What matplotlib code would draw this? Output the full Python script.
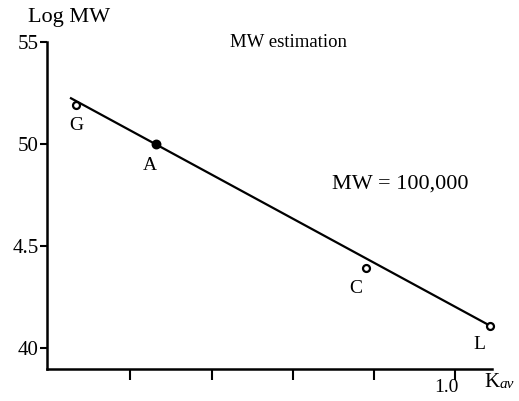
import numpy as np
import matplotlib
matplotlib.use("Agg")
from matplotlib import pyplot as plt
from matplotlib.transforms import ScaledTranslation

plt.rcParams['font.family'] = ['Liberation Serif', 'DejaVu Serif']

# data
names = ['G', 'A', 'C', 'L']
kav = [0.066, 0.263, 0.78, 1.085]
logmw = [5.19, 5.0, 4.39, 4.11]
filled = [False, True, False, False]
kav_fit = [0.054, 1.085]
logmw_fit = [5.225, 4.11]
yticks = [4.0, 4.5, 5.0, 5.5]
ytick_labels = ['40', '4.5', '50', '55']
xticks = [0.2, 0.4, 0.6, 0.8, 1.0]
xtick_labels = ['', '', '', '', '1.0']

fig = plt.figure(figsize=(5.19, 4.01), dpi=100)
ax = fig.add_axes([0.0906, 0.0798, 0.857, 0.815])

ax.plot(kav_fit, logmw_fit, color='black', lw=1.6)
for n, x, y, f in zip(names, kav, logmw, filled):
    ax.plot(x, y, 'o', ms=5.5 if f else 5, mfc='black' if f else 'white',
            mec='black', mew=1.6, zorder=3, clip_on=False)
# label offsets (pixels)
offs = {'G': (0, -20), 'A': (-6, -21), 'C': (-10, -20), 'L': (-10, -19)}
for n, x, y in zip(names, kav, logmw):
    ax.annotate(n, (x, y), xytext=offs[n], textcoords='offset pixels',
                ha='center', va='center', fontsize=14)

ax.set_xlim(-0.005, 1.09)
ax.set_ylim(3.897, 5.5)
ax.set_yticks(yticks)
ax.set_yticklabels(ytick_labels, fontsize=15)
ax.set_xticks(xticks)
ax.set_xticklabels(xtick_labels, fontsize=14)
ax.tick_params(axis='y', direction='out', length=5, width=1.5, pad=1)
ax.tick_params(axis='x', direction='out', length=8, width=1.5, pad=-1)
shift = ScaledTranslation(-0.09, 0, fig.dpi_scale_trans)
for lbl in ax.get_xticklabels():
    lbl.set_transform(lbl.get_transform() + shift)
for s in ['top', 'right']:
    ax.spines[s].set_visible(False)
for s in ['left', 'bottom']:
    ax.spines[s].set_linewidth(1.8)

fig.text(0.054, 0.957, 'Log MW', fontsize=16, va='center')
fig.text(0.443, 0.893, 'MW estimation', fontsize=13.5, va='center')
fig.text(0.64, 0.54, 'MW = 100,000', fontsize=16, va='center')
fig.text(0.934, 0.045, 'K', fontsize=15, va='center')
fig.text(0.962, 0.040, 'av', fontsize=11, style='italic', va='center')

fig.savefig('out.png', dpi=100)
